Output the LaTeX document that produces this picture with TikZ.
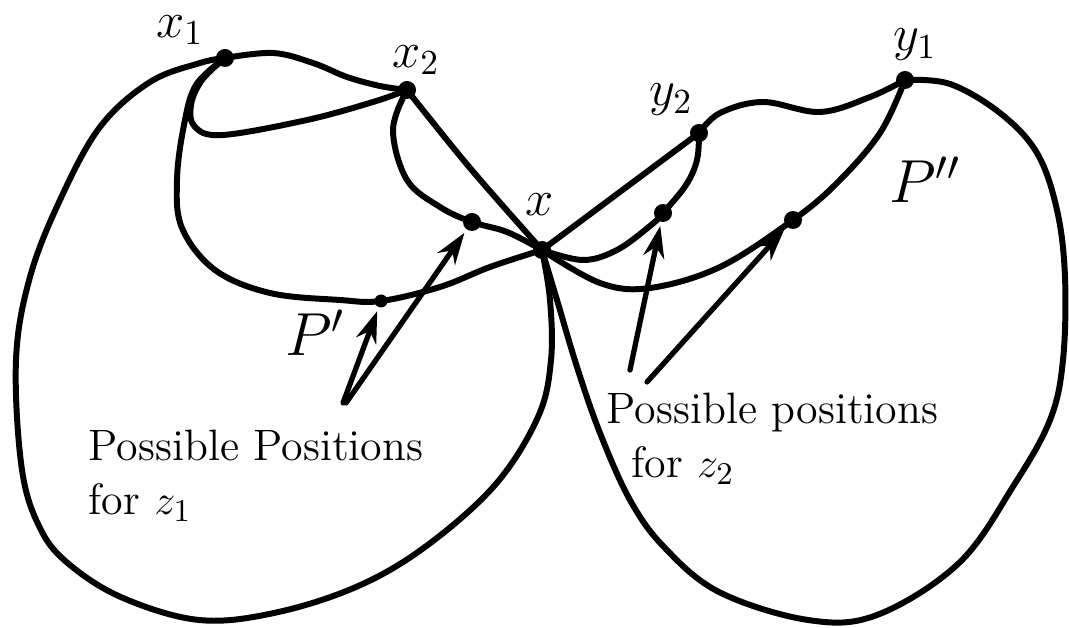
\documentclass[tikz,border=0pt]{standalone}
\usetikzlibrary{arrows.meta}

\begin{document}
\begin{tikzpicture}[
  x=0.01cm, y=-0.01cm,
  >={Stealth[length=9pt, width=6pt]},
  edge/.style={line width=1.7pt, line cap=round, line join=round},
  pointer/.style={->, line width=1.5pt, line cap=round, shorten >=1pt},
  vertex/.style={circle, fill=black, inner sep=0pt, minimum size=1.8mm},
  tag/.style={font=\Large, inner sep=0pt},
  pathname/.style={font=\LARGE, inner sep=0pt},
  note/.style={font=\fontsize{12.5pt}{15.5pt}\selectfont, align=left, inner sep=0pt, anchor=north west}
]

\useasboundingbox (0,0) rectangle (1069,628);

% vertices
\node[vertex] (x1) at (225,58) {};
\node[vertex] (x2) at (407,90) {};
\node[vertex] (x)  at (542,250) {};
\node[vertex] (y2) at (699,133) {};
\node[vertex] (y1) at (905,80) {};

% possible positions on P' and P''
\node[vertex] (za) at (472,222) {};
\node[vertex, minimum size=1.3mm] (zb) at (381,301) {};
\node[vertex] (zc) at (663,213) {};
\node[vertex] (zd) at (793,220) {};

\node[tag] (lx1) at (180,30) {$x_1$};
\node[tag] (lx2) at (416,60) {$x_2$};
\node[tag] (lx)  at (540,205) {$x$};
\node[tag] (ly2) at (671,100) {$y_2$};
\node[tag] (ly1) at (915,45) {$y_1$};
\node[pathname] (p1) at (315,333) {$P'$};
\node[pathname] (p2) at (925,180) {$P''$};

% outer loops
\draw[edge] plot[smooth, tension=0.6] coordinates {(x1.center) (200,63) (150,82) (100,127)
  (60,200) (30,277) (16,360) (22,470) (41,530) (70,565) (123,598) (199,620) (274,613)
  (356,587) (425,547) (495,485) (538,417) (551,360) (550,300) (x.center)};
\draw[edge] plot[smooth, tension=0.6] coordinates {(x.center) (557,300) (577,367) (600,433)
  (630,500) (664,547) (719,592) (808,620) (877,615) (959,563) (1014,485) (1050,420)
  (1063,360) (1065,277) (1057,210) (1037,153) (1000,113) (950,84) (y1.center)};

% left side
\draw[edge] plot[smooth, tension=0.6] coordinates {(x1.center) (273,53) (313,63)
  (347,77) (380,86) (x2.center)};
\draw[edge] plot[smooth, tension=0.6] coordinates {(x1.center) (202,80) (191,105)
  (195,127) (223,135) (307,120) (373,102) (x2.center)};
\draw[edge] plot[smooth, tension=0.6] coordinates {(x1.center) (196,85) (184,125)
  (177,180) (182,228) (215,270) (270,293) (340,300) (zb.center) (440,287) (490,267)
  (x.center)};
\draw[edge] plot[smooth, tension=0.6] coordinates {(x2.center) (393,130) (407,180)
  (440,207) (za.center) (507,232) (x.center)};
\draw[edge] plot[smooth, tension=0.6] coordinates {(x2.center) (470,168) (x.center)};

% right side
\draw[edge] (x.center) -- (y2.center);
\draw[edge] plot[smooth, tension=0.6] coordinates {(x.center) (583,260) (617,250)
  (650,226) (zc.center) (686,185) (697,160) (y2.center)};
\draw[edge] plot[smooth, tension=0.6] coordinates {(x.center) (600,283) (650,288)
  (720,267) (zd.center) (837,183) (880,133) (y1.center)};
\draw[edge] plot[smooth, tension=0.6] coordinates {(y2.center) (720,113) (763,102)
  (820,112) (870,97) (y1.center)};

% texts and arrows
\node[note] (pos1) at (88,429) {Possible Positions\\for $z_1$};
\node[note] (pos2) at (606,392) {Possible positions\\\hspace*{7pt}for $z_2$};

\coordinate (f1) at (343,403);
\coordinate (f2) at (346,403);
\coordinate (f3) at (630,370);
\coordinate (f4) at (647,382);
\draw[pointer] (f1) -- (zb);
\draw[pointer] (f2) -- (za);
\draw[pointer] (f3) -- (zc);
\draw[pointer] (f4) -- (zd);

\end{tikzpicture}
\end{document}
